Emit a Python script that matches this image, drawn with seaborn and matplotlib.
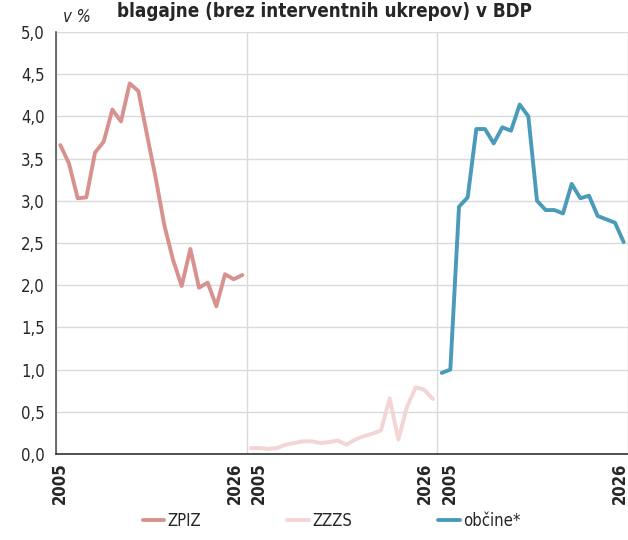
import matplotlib
matplotlib.use("Agg")
import matplotlib.pyplot as plt
import pandas as pd
import seaborn as sns

years = list(range(2005, 2027))
series_names = ["ZPIZ", "ZZZS", "občine*"]

zpiz = [3.66, 3.44, 3.03, 3.04, 3.57, 3.70, 4.08, 3.94, 4.39, 4.30, 3.78,
        3.27, 2.71, 2.30, 1.99, 2.43, 1.97, 2.03, 1.75, 2.13, 2.07, 2.12]
zzzs = [0.07, 0.07, 0.06, 0.07, 0.11, 0.13, 0.15, 0.15, 0.13, 0.14, 0.16,
        0.11, 0.17, 0.21, 0.24, 0.28, 0.66, 0.17, 0.56, 0.79, 0.76, 0.65]
obcine = [0.96, 1.00, 2.93, 3.04, 3.85, 3.85, 3.68, 3.87, 3.83, 4.14, 4.00,
          3.00, 2.89, 2.89, 2.85, 3.20, 3.03, 3.06, 2.82, 2.78, 2.74, 2.51]

colors = ["#D9918F", "#F2D5D4", "#4A9BBA"]
yticks = [0.0, 0.5, 1.0, 1.5, 2.0, 2.5, 3.0, 3.5, 4.0, 4.5, 5.0]

# one long table, each series gets its own third of a shared category axis
rows = []
for k, (name, vals) in enumerate(zip(series_names, [zpiz, zzzs, obcine])):
    for i, (yr, v) in enumerate(zip(years, vals)):
        rows.append({"pos": k * len(years) + i, "year": yr, "value": v, "series": name})
df = pd.DataFrame(rows)

sns.set_style("white")
plt.rcParams["font.family"] = ["DejaVu Sans"]
plt.rcParams["font.stretch"] = "condensed"

fig = plt.figure(figsize=(6.28, 5.4), dpi=100)
ax = fig.add_axes([0.0892, 0.1593, 0.9108, 0.7815])

sns.lineplot(data=df, x="pos", y="value", hue="series", palette=colors,
             linewidth=2.8, ax=ax, legend=False)

n = len(years)
ax.set_xlim(-0.5, 3 * n - 0.5)
ax.set_ylim(0, 5)
ax.set_yticks(yticks)
ax.set_yticklabels([f"{t:.1f}".replace(".", ",") for t in yticks], fontsize=12)
ax.yaxis.grid(True, color="#DADADA", linewidth=1)

bounds = [-0.5, n - 0.5, 2 * n - 0.5, 3 * n - 0.5]
ax.set_xticks(bounds)
ax.set_xticklabels([])
ax.xaxis.grid(True, color="#DADADA", linewidth=1)
lab_pos = [-0.1, n - 1.9, n + 0.9, 2 * n - 1.9, 2 * n + 0.9, 3 * n - 1.4]
lab_txt = [str(years[0]), str(years[-1])] * 3
ax.set_xticks(lab_pos, minor=True)
ax.set_xticklabels(lab_txt, minor=True, rotation=90, fontsize=12, fontweight="bold")
ax.tick_params(axis="x", which="minor", length=0, pad=6)
ax.tick_params(axis="x", which="major", length=5, color="#333333", direction="out")
ax.tick_params(axis="y", length=5, color="#555555", direction="out", pad=3)
ax.set_xlabel("")
ax.set_ylabel("")

for s in ["top", "right"]:
    ax.spines[s].set_visible(False)
ax.spines["left"].set_color("#555555")
ax.spines["bottom"].set_color("#333333")
ax.spines["left"].set_linewidth(1.2)
ax.spines["bottom"].set_linewidth(1.2)

ax.text(0.012, 1.015, "v %", transform=ax.transAxes, fontsize=12,
        style="italic", ha="left", va="bottom")
fig.text(0.517, 0.997, "blagajne (brez interventnih ukrepov) v BDP",
         fontsize=13.5, fontweight="bold", ha="center", va="top")

handles = [plt.Line2D([0], [0], color=c, linewidth=2.8) for c in colors]
fig.legend(handles, series_names, loc="center", bbox_to_anchor=(0.528, 0.035),
           ncol=3, frameon=False, fontsize=12, handlelength=1.3,
           handletextpad=0.2, columnspacing=5.15)

fig.savefig("out.png", dpi=100)
